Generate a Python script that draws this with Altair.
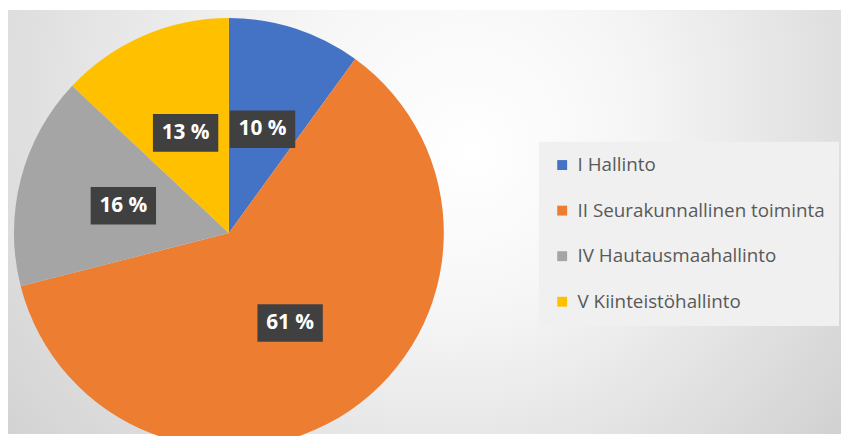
import altair as alt
import pandas as pd

categories = ["I Hallinto", "II Seurakunnallinen toiminta", "IV Hautausmaahallinto", "V Kiinteistöhallinto"]
values = [10, 61, 16, 13]
label_texts = ["10 %", "61 %", "16 %", "13 %"]
colors = ["#4472C4", "#ED7D31", "#A5A5A5", "#FFC000"]

W, H = 841, 428
CX, CY, R = 223, 225, 217
LR = 110
BW, BH = 33, 19

df = pd.DataFrame({"cat": categories, "value": values, "label": label_texts,
                   "ord": list(range(len(categories)))})

bg = alt.Chart(pd.DataFrame({"a": [0]})).mark_rect(
    color={"gradient": "radial", "x1": 0.56, "y1": 0.42, "r1": 0.0,
           "x2": 0.47, "y2": 0.3, "r2": 0.85,
           "stops": [{"offset": 0, "color": "#ffffff"},
                     {"offset": 0.25, "color": "#f6f6f6"},
                     {"offset": 1, "color": "#c2c2c2"}]}
).encode(x=alt.value(0), x2=alt.value(W), y=alt.value(0), y2=alt.value(H))

pie = alt.Chart(df).mark_arc(outerRadius=R).encode(
    theta=alt.Theta("value:Q", stack=True),
    color=alt.Color("cat:N", scale=alt.Scale(domain=categories, range=colors),
                    legend=alt.Legend(title=None, orient="none", legendX=536, legendY=133,
                                      symbolType="square", symbolSize=100, symbolOpacity=1,
                                      symbolStrokeWidth=0,
                                      labelFont="Open Sans", labelFontSize=19, labelColor="#595959",
                                      rowPadding=26, labelOffset=6, padding=14,
                                      fillColor="#f0f0f0", labelLimit=400)),
    order=alt.Order("ord:Q"),
    x=alt.value(CX), y=alt.value(CY),
)

lab = (alt.Chart(df)
       .transform_window(cum="sum(value)", sort=[alt.SortField("ord")], frame=[None, 0])
       .transform_joinaggregate(total="sum(value)")
       .transform_calculate(ang="2*PI*(datum.cum - datum.value/2)/datum.total")
       .transform_calculate(lx=f"{CX} + {LR}*sin(datum.ang)")
       .transform_calculate(ly=f"{CY} - {LR}*cos(datum.ang)")
       .transform_calculate(bx0=f"datum.lx - {BW}", bx1=f"datum.lx + {BW}")
       .transform_calculate(by0=f"datum.ly - {BH}", by1=f"datum.ly + {BH}"))

boxes = lab.mark_rect(color="#404040").encode(
    x=alt.X("bx0:Q", scale=None, axis=None), x2="bx1:Q",
    y=alt.Y("by0:Q", scale=None, axis=None), y2="by1:Q",
)

texts = lab.mark_text(font="Open Sans", fontSize=21, fontWeight="bold", color="#ffffff").encode(
    x=alt.X("lx:Q", scale=None, axis=None),
    y=alt.Y("ly:Q", scale=None, axis=None),
    text="label:N",
)

chart = alt.layer(bg, pie, boxes, texts).properties(
    width=W, height=H, padding=0, autosize="none", background="white"
).configure_view(stroke=None)

chart.save("out.html", embed_options={"renderer": "svg", "actions": False})
